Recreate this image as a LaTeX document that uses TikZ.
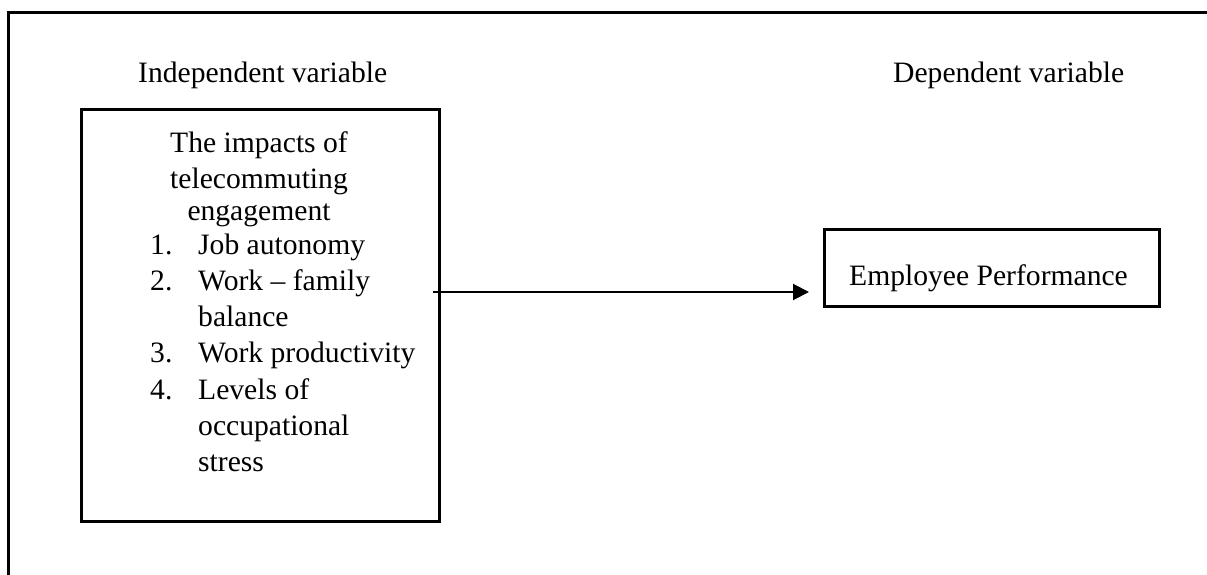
\documentclass[tikz,border=0pt]{standalone}
\usepackage{fontspec}
\setmainfont{Liberation Serif}
\usetikzlibrary{arrows.meta,calc}
\begin{document}
\begin{tikzpicture}[x=1pt,y=-1pt,
  box/.style={draw,line width=2.7pt,inner sep=0pt,anchor=north west},
  txt/.style={inner sep=0pt,anchor=base west,font=\fontsize{29.6}{36.3}\selectfont},
  ctxt/.style={txt,anchor=base},
  link/.style={line width=2pt,-{Triangle[length=16pt,width=16pt]}}]
\useasboundingbox (0,0) rectangle (1207,575);
\draw[line width=3pt] (8,575) -- (8,13) -- (1207,13);
\node[txt] (iv) at (138,83) {Independent variable};
\node[txt] (dv) at (893,83) {Dependent variable};
\node[box,minimum width=358pt,minimum height=412pt] (lbox) at (80,108) {};
\node[box,minimum width=335pt,minimum height=77pt] (rbox) at (823,228) {};
\node[ctxt] (t1) at (259,153) {The impacts of};
\node[ctxt] (t2) at (259,188) {telecommuting};
\node[ctxt] (t3) at (259,220) {engagement};
\node[txt] (n1) at (150,254) {1.};
\node[txt] (i1) at (198,254) {Job autonomy};
\node[txt] (n2) at (150,290) {2.};
\node[txt] (i2) at (198,290) {Work -- family};
\node[txt] (i2b) at (198,326.5) {balance};
\node[txt] (n3) at (150,362.5) {3.};
\node[txt] (i3) at (198,362.5) {Work productivity};
\node[txt] (n4) at (150,399) {4.};
\node[txt] (i4) at (198,399) {Levels of};
\node[txt] (i4b) at (198,435.3) {occupational};
\node[txt] (i4c) at (198,471.6) {stress};
\node[txt] (ep) at (849,285) {Employee Performance};
\coordinate (s) at (433,292);
\draw[link,shorten >=14pt] (s) -- (s -| rbox.west);
\end{tikzpicture}
\end{document}
